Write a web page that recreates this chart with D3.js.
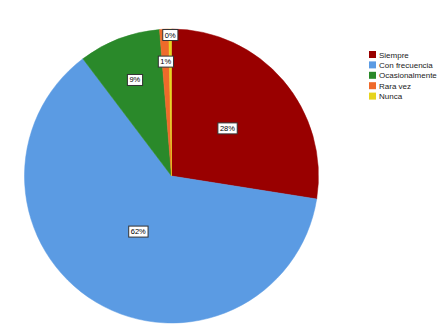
<!DOCTYPE html>
<html lang="en">
<head>
	<meta charset="UTF-8">
	<title>Pie</title>
	<style>
		body { margin: 0; background: #fff; }
		text { font-family: "Liberation Sans", Arial, sans-serif; }
	</style>
	<script src="https://cdn.jsdelivr.net/npm/d3@7/dist/d3.min.js"></script>
</head>
<body>
	<script type="text/javascript">
		const width = 447;
		const height = 326;

		// data
		const categories = ["Siempre", "Con frecuencia", "Ocasionalmente", "Rara vez", "Nunca"];
		const values = [27.5, 62.2, 9.0, 1.0, 0.3];
		const labels = ["28%", "62%", "9%", "1%", "0%"];
		const colors = ["#990000", "#5b9be3", "#2a892a", "#ef6a2a", "#e6d41e"];
		// how far out (share of radius) each label sits
		const labelPos = [0.5, 0.44, 0.7, 0.78, 0.96];

		const cx = 171.5, cy = 176, r = 147;

		const svg = d3.select("body").append("svg")
			.attr("width", width)
			.attr("height", height);

		const pie = d3.pie().sort(null).value(d => d)(values);
		const arc = d3.arc().innerRadius(0).outerRadius(r);

		const g = svg.append("g").attr("transform", `translate(${cx},${cy})`);

		g.selectAll(".slice")
			.data(pie)
			.join("path")
			.classed("slice", true)
			.attr("d", arc)
			.attr("fill", (d, i) => colors[i])
			.attr("stroke", (d, i) => colors[i])
			.attr("stroke-width", 0.5);

		// labels with little white boxes
		const lab = g.selectAll(".lab")
			.data(pie)
			.join("g")
			.classed("lab", true)
			.attr("transform", (d, i) => {
				const c = d3.arc().innerRadius(r * labelPos[i]).outerRadius(r * labelPos[i]).centroid(d);
				return `translate(${c[0]},${c[1]})`;
			});

		lab.append("text")
			.attr("text-anchor", "middle")
			.attr("dy", "0.35em")
			.attr("font-size", 7.5)
			.attr("fill", "#000")
			.text((d, i) => labels[i]);

		lab.each(function() {
			const t = d3.select(this).select("text");
			const b = t.node().getBBox();
			d3.select(this).insert("rect", "text")
				.attr("x", b.x - 2)
				.attr("y", b.y - 1)
				.attr("width", b.width + 4)
				.attr("height", b.height + 2)
				.attr("fill", "#fff")
				.attr("stroke", "#333")
				.attr("stroke-width", 1);
		});

		// legend
		const legend = svg.append("g").attr("transform", "translate(369,51)");
		const rows = legend.selectAll(".row")
			.data(categories)
			.join("g")
			.classed("row", true)
			.attr("transform", (d, i) => `translate(0,${i * 10.4})`);

		rows.append("rect")
			.attr("width", 7)
			.attr("height", 7)
			.attr("fill", (d, i) => colors[i]);

		rows.append("text")
			.attr("x", 10)
			.attr("y", 6.5)
			.attr("font-size", 8)
			.attr("fill", "#222")
			.text(d => d);
	</script>
</body>
</html>
